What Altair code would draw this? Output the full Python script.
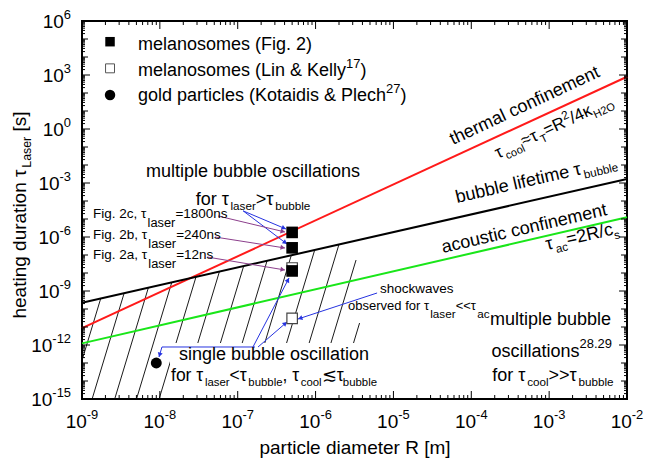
import math
import altair as alt
import pandas as pd

# ---------------- values ----------------
R_ENDS = [1e-9, 1e-2]                    # particle diameter R [m] at both ends of the lines
TAU_THERMAL = [8.7e-12, 8.0e2]           # thermal confinement (red)
TAU_BUBBLE = [2.2e-10, 1.66e-3]          # bubble lifetime (black)
TAU_ACOUSTIC = [1.23e-12, 1.24e-5]       # acoustic confinement (green)

FIG2_R = [5e-7, 5e-7, 5e-7]
FIG2_TAU = [1.8e-6, 2.5e-7, 1.3e-8]
LINKELLY_R = [5e-7, 5e-7]
LINKELLY_TAU = [1.9e-8, 3.0e-11]
GOLD_R = [9e-9]
GOLD_TAU = [1e-13]

X_TICK_EXP = [-9, -8, -7, -6, -5, -4, -3, -2]
Y_TICK_EXP = list(range(-15, 7))
Y_LABEL_EXP = [6, 3, 0, -3, -6, -9, -12, -15]

# hatch strokes: log10 R where each stroke meets the bottom axis, optional upper cap (log10 tau)
HATCH_LOGR = [-9.15, -8.87, -8.58, -8.30, -8.01, -7.73, -7.44, -7.16, -6.87, -6.59, -6.30, -6.02, -5.73]
HATCH_CAP = [None] * 11 + [-7.28, -10.78]
HATCH_STEEP = 14.3

LEGEND_LABELS = [
    [("melanosomes (Fig. 2)", "n")],
    [("melanosomes (Lin & Kelly", "n"), ("17", "sup"), (")", "n")],
    [("gold particles (Kotaidis & Plech", "n"), ("27", "sup"), (")", "n")],
]

# ---------------- layout ----------------
W, H = 545, 378
LX0, LX1, LY0, LY1 = -9, -2, -15, 6
KX = W / (LX1 - LX0)
KY = H / (LY1 - LY0)
FONT = "Liberation Sans"
XS = alt.Scale(type="log", domain=[10.0 ** LX0, 10.0 ** LX1], nice=False)
YS = alt.Scale(type="log", domain=[10.0 ** LY0, 10.0 ** LY1], nice=False)

CW = {' ': 278, '&': 667, '(': 333, ')': 333, ',': 278, '-': 333, '.': 278, '/': 278,
      '<': 584, '=': 584, '>': 584, '[': 278, ']': 278,
      'A': 667, 'B': 667, 'C': 722, 'D': 722, 'E': 667, 'F': 611, 'G': 778, 'H': 722, 'I': 278,
      'K': 667, 'L': 556, 'M': 833, 'N': 722, 'O': 778, 'P': 667, 'R': 722, 'S': 667, 'T': 611,
      'a': 556, 'b': 556, 'c': 500, 'd': 556, 'e': 556, 'f': 278, 'g': 556, 'h': 556, 'i': 222,
      'j': 222, 'k': 500, 'l': 222, 'm': 833, 'n': 556, 'o': 556, 'p': 556, 'q': 556, 'r': 333,
      's': 500, 't': 278, 'u': 556, 'v': 500, 'w': 722, 'x': 500, 'y': 500, 'z': 500,
      'τ': 490, 'κ': 520, '≈': 584, '≲': 720}


def width(s, fs):
    return sum(CW.get(c, 556) for c in s) / 1000.0 * fs


def rich(rows, lx, ly, pieces, size, angle=0, align="left", ox=0.0, oy=0.0,
         sub_scale=0.65, sub_shift=0.28, sup_scale=0.7, sup_shift=0.42):
    items, adv = [], 0.0
    for txt, kind in pieces:
        if kind == "n":
            fs, shift = size, 0.0
        elif kind == "sub":
            fs, shift = size * sub_scale, sub_shift * size
        else:
            fs, shift = size * sup_scale, -sup_shift * size
        lead = len(txt) - len(txt.lstrip(" "))
        items.append((txt.strip(" "), fs, adv + width(" " * lead, fs), shift))
        adv += width(txt, fs)
    start = {"left": 0.0, "center": -adv / 2, "right": -adv}[align]
    th = math.radians(angle)
    ax, ay = math.cos(th), math.sin(th)
    nx, ny = -math.sin(th), math.cos(th)
    for txt, fs, a, shift in items:
        if not txt:
            continue
        px = ox + ax * (start + a) + nx * shift
        py = oy + ay * (start + a) + ny * shift
        rows.append({"x": 10 ** (lx + px / KX), "y": 10 ** (ly - py / KY),
                     "text": txt, "size": round(fs, 2), "angle": angle})


def seg(rows, heads, p, q, color, head=True):
    rows.append({"x": 10 ** p[0], "y": 10 ** p[1], "x2": 10 ** q[0], "y2": 10 ** q[1], "color": color})
    if head:
        dx = (q[0] - p[0]) * KX
        dy = -(q[1] - p[1]) * KY
        L = math.hypot(dx, dy)
        ang = math.degrees(math.atan2(dx, -dy)) % 360
        back = 3.0
        hx = q[0] - dx / L * back / KX
        hy = q[1] + dy / L * back / KY
        heads.append({"x": 10 ** hx, "y": 10 ** hy, "angle": ang, "color": color})


layers = []

# ---- hatching below the bubble-lifetime line ----
bx0, bx1 = math.log10(R_ENDS[0]), math.log10(R_ENDS[1])
by0, by1 = math.log10(TAU_BUBBLE[0]), math.log10(TAU_BUBBLE[1])
bs = (by1 - by0) / (bx1 - bx0)
hatch = []
for lb, cap in zip(HATCH_LOGR, HATCH_CAP):
    u = (by0 - bs * bx0 - LY0 + HATCH_STEEP * lb) / (HATCH_STEEP - bs)
    top = by0 + bs * (u - bx0)
    if cap is not None and cap < top:
        top = cap
        u = lb + (cap - LY0) / HATCH_STEEP
    if lb < LX0:
        sx, sy = LX0, LY0 + HATCH_STEEP * (LX0 - lb)
    else:
        sx, sy = lb, LY0
    if u <= LX0:
        continue
    hatch.append({"x": 10 ** sx, "y": 10 ** sy, "x2": 10 ** u, "y2": 10 ** top})
hatch_df = pd.DataFrame(hatch)
layers.append(alt.Chart(hatch_df).mark_rule(color="black", strokeWidth=0.9).encode(
    x=alt.X("x:Q", scale=XS, axis=None), y=alt.Y("y:Q", scale=YS, axis=None),
    x2="x2:Q", y2="y2:Q"))

# white backing of the "single bubble oscillation" caption
box_df = pd.DataFrame([{"x": 1.35e-8, "x2": 6.8e-6, "y": 1.3e-12, "y2": 1.15e-15}])
layers.append(alt.Chart(box_df).mark_rect(color="white").encode(
    x=alt.X("x:Q", scale=XS, axis=None), x2="x2:Q",
    y=alt.Y("y:Q", scale=YS, axis=None), y2="y2:Q"))

# ---- the three time-scale lines ----
line_rows = []
for name, taus in [("thermal", TAU_THERMAL), ("bubble", TAU_BUBBLE), ("acoustic", TAU_ACOUSTIC)]:
    for r, t in zip(R_ENDS, taus):
        line_rows.append({"R": r, "tau": t, "series": name})
lines_df = pd.DataFrame(line_rows)
layers.append(alt.Chart(lines_df).mark_line(strokeWidth=2).encode(
    x=alt.X("R:Q", scale=XS, axis=None), y=alt.Y("tau:Q", scale=YS, axis=None),
    color=alt.Color("series:N", legend=None,
                    scale=alt.Scale(domain=["thermal", "bubble", "acoustic"],
                                    range=["#ff1a1a", "#000000", "#19e619"]))))

# ---- arrows ----
BLUE, PURPLE = "#2633e0", "#8c3f8c"
arrows, heads = [], []
FOR_LASER = (-6.93, -4.55)
seg(arrows, heads, FOR_LASER, (-6.380, -5.556), BLUE)
seg(arrows, heads, FOR_LASER, (-6.367, -6.389), BLUE)
BR_L, BR_R = (-7.973, -12.111), (-6.778, -12.111)
seg(arrows, heads, BR_L, BR_R, BLUE, head=False)
seg(arrows, heads, BR_L, (-8.011, -12.667), BLUE)
seg(arrows, heads, (-6.804, -12.111), (-6.341, -8.278), BLUE)
seg(arrows, heads, (-6.739, -12.111), (-6.367, -10.722), BLUE)
seg(arrows, heads, (-5.21, -9.111), (-6.226, -10.556), BLUE)
seg(arrows, heads, (-7.253, -4.833), (-6.393, -5.722), PURPLE)
seg(arrows, heads, (-7.292, -6.0), (-6.393, -6.611), PURPLE)
seg(arrows, heads, (-7.394, -7.111), (-6.393, -7.833), PURPLE)
layers.append(alt.Chart(pd.DataFrame(arrows)).mark_rule(strokeWidth=1).encode(
    x=alt.X("x:Q", scale=XS, axis=None), y=alt.Y("y:Q", scale=YS, axis=None),
    x2="x2:Q", y2="y2:Q", color=alt.Color("color:N", scale=None)))
layers.append(alt.Chart(pd.DataFrame(heads)).mark_point(shape="triangle", filled=True, size=26, opacity=1).encode(
    x=alt.X("x:Q", scale=XS, axis=None), y=alt.Y("y:Q", scale=YS, axis=None),
    angle=alt.Angle("angle:Q", scale=None), color=alt.Color("color:N", scale=None)))

# ---- data points ----
lk_df = pd.DataFrame({"R": LINKELLY_R, "tau": LINKELLY_TAU})
fig2_df = pd.DataFrame({"R": FIG2_R, "tau": FIG2_TAU})
gold_df = pd.DataFrame({"R": GOLD_R, "tau": GOLD_TAU})
enc = dict(x=alt.X("R:Q", scale=XS, axis=None), y=alt.Y("tau:Q", scale=YS, axis=None))
layers.append(alt.Chart(lk_df).mark_point(shape="square", filled=True, fill="white", stroke="#444444",
                                          strokeWidth=1.2, size=110, opacity=1).encode(**enc))
layers.append(alt.Chart(fig2_df).mark_point(shape="square", filled=True, color="black", size=135,
                                            opacity=1).encode(**enc))
layers.append(alt.Chart(gold_df).mark_point(shape="circle", filled=True, color="black", size=120,
                                            opacity=1).encode(**enc))

# ---- legend (drawn inside the plot) ----
LEG_LX = -8.64
LEG_LY = [4.85, 3.37, 1.89]
leg_enc = dict(x=alt.X("R:Q", scale=XS, axis=None), y=alt.Y("tau:Q", scale=YS, axis=None))
layers.append(alt.Chart(pd.DataFrame({"R": [10 ** LEG_LX], "tau": [10 ** LEG_LY[0]]})).mark_point(
    shape="square", filled=True, color="black", size=90, opacity=1).encode(**leg_enc))
layers.append(alt.Chart(pd.DataFrame({"R": [10 ** LEG_LX], "tau": [10 ** LEG_LY[1]]})).mark_point(
    shape="square", filled=True, fill="white", stroke="#555555", strokeWidth=1, size=80, opacity=1).encode(**leg_enc))
layers.append(alt.Chart(pd.DataFrame({"R": [10 ** LEG_LX], "tau": [10 ** LEG_LY[2]]})).mark_point(
    shape="circle", filled=True, color="black", size=110, opacity=1).encode(**leg_enc))

# ---- inward ticks on all four sides ----
x_major = [10.0 ** e for e in X_TICK_EXP]
x_minor = [k * 10.0 ** e for e in X_TICK_EXP[:-1] for k in range(2, 10)]
y_label = [10.0 ** e for e in Y_LABEL_EXP]
y_dec = [10.0 ** e for e in Y_TICK_EXP if e not in Y_LABEL_EXP]
y_minor = [k * 10.0 ** e for e in Y_TICK_EXP[:-1] for k in range(2, 10)]


def xtick_layers(vals, L):
    df = pd.DataFrame({"v": vals})
    xe = alt.X("v:Q", scale=XS, axis=None)
    return [alt.Chart(df).mark_rule(color="black", strokeWidth=1).encode(x=xe, y=alt.value(H), y2=alt.value(H - L)),
            alt.Chart(df).mark_rule(color="black", strokeWidth=1).encode(x=xe, y=alt.value(0), y2=alt.value(L))]


def ytick_layers(vals, L):
    df = pd.DataFrame({"v": vals})
    ye = alt.Y("v:Q", scale=YS, axis=None)
    return [alt.Chart(df).mark_rule(color="black", strokeWidth=1).encode(y=ye, x=alt.value(0), x2=alt.value(L)),
            alt.Chart(df).mark_rule(color="black", strokeWidth=1).encode(y=ye, x=alt.value(W), x2=alt.value(W - L))]


layers += xtick_layers(x_major, 8) + xtick_layers(x_minor, 4)
layers += ytick_layers(y_label, 8) + ytick_layers(y_dec, 6) + ytick_layers(y_minor, 3)

# ---- all text ----
T = []
for lyv, pieces in zip([4.39, 2.944, 1.556], LEGEND_LABELS):
    rich(T, -8.281, lyv, pieces, 18, sup_scale=0.72, sup_shift=0.45)

rich(T, -4.235, -0.889, [("thermal confinement", "n")], 18, angle=335)
rich(T, -3.657, -1.65, [("τ", "n"), ("cool", "sub"), ("≈", "n"), ("τ", "n"), ("T", "sub"), ("=R", "n"),
                        ("2", "sup"), ("/4κ", "n"), ("H2O", "sub")], 17, angle=335)
rich(T, -4.183, -4.111, [("bubble lifetime τ", "n"), ("bubble", "sub")], 18, angle=347)
rich(T, -4.363, -6.889, [("acoustic confinement", "n")], 18, angle=347)
rich(T, -3.027, -6.722, [("τ", "n"), ("ac", "sub"), ("=2R/c", "n"), ("s", "sub")], 18, angle=347)

rich(T, -6.804, -2.667, [("multiple bubble oscillations", "n")], 18, align="center")
rich(T, -6.804, -4.222, [("for τ", "n"), ("laser", "sub"), (">τ", "n"), ("bubble", "sub")], 18, align="center")

for lyv, tag, val in [(-4.944, "2c", "=1800ns"), (-6.111, "2b", "=240ns"), (-7.222, "2a", "=12ns")]:
    rich(T, -8.859, lyv, [("Fig. %s, τ" % tag, "n"), ("laser", "sub"), (val, "n")], 13.5,
         sub_scale=0.95, sub_shift=0.7)

rich(T, -5.172, -9.111, [("shockwaves", "n")], 13.5)
rich(T, -5.583, -10.056, [("observed for τ", "n"), ("laser", "sub"), ("<<τ", "n"), ("ac", "sub")], 13,
     sub_scale=0.9, sub_shift=0.6)

rich(T, -3.76, -10.889, [("multiple bubble", "n")], 18)
rich(T, -3.74, -12.667, [("oscillations", "n"), ("28.29", "sup")], 18, sup_scale=0.72, sup_shift=0.5)
rich(T, -3.73, -14.0, [("for τ", "n"), ("cool", "sub"), (">>τ", "n"), ("bubble", "sub")], 18)

rich(T, -6.534, -12.833, [("single bubble oscillation", "n")], 18, align="center")
rich(T, -6.534, -14.0, [("for τ", "n"), ("laser", "sub"), ("<τ", "n"), ("bubble", "sub"), (", τ", "n"),
                        ("cool", "sub"), ("≲τ", "n"), ("bubble", "sub")], 17.5, align="center")

rich(T, -5.494, -18.056, [("particle diameter R [m]", "n")], 19, align="center")
rich(T, -9.719, -4.778, [("heating duration τ", "n"), ("Laser", "sub"), (" [s]", "n")], 19,
     angle=270, align="center")

for e in X_TICK_EXP:
    rich(T, e, LY0, [("10", "n"), (str(e), "sup")], 19, align="center", oy=29,
         sup_scale=0.68, sup_shift=0.5)
for e in Y_LABEL_EXP:
    rich(T, LX0, e, [("10", "n"), (str(e), "sup")], 19, align="right", ox=-11, oy=7,
         sup_scale=0.68, sup_shift=0.5)

text_df = pd.DataFrame(T)
layers.append(alt.Chart(text_df).mark_text(align="left", baseline="alphabetic", font=FONT,
                                           color="black").encode(
    x=alt.X("x:Q", scale=XS, axis=None), y=alt.Y("y:Q", scale=YS, axis=None),
    text="text:N", size=alt.Size("size:Q", scale=None), angle=alt.Angle("angle:Q", scale=None)))

chart = alt.layer(*layers).properties(
    width=W, height=H,
    padding={"left": 82, "top": 21, "right": 20, "bottom": 63},
    autosize=alt.AutoSizeParams(type="none"),
    background="white",
).configure_view(stroke="black", strokeWidth=2)

chart.save("out.html", embed_options={"renderer": "svg", "actions": False})
